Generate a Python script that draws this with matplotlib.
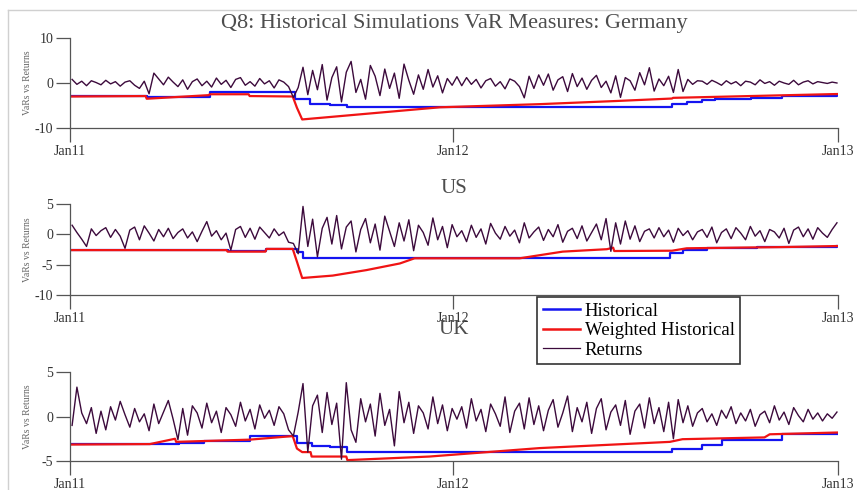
import numpy as np
import pandas as pd
import matplotlib
matplotlib.use("Agg")
import matplotlib.pyplot as plt
from matplotlib.lines import Line2D

plt.rcParams["font.family"] = ["Liberation Serif", "DejaVu Serif"]
plt.rcParams["axes.unicode_minus"] = False

# ---- data -------------------------------------------------------------
start_date = "2011-01-03"
end_date = "2012-12-31"
xtick_dates = ["2011-01-01", "2012-01-01", "2013-01-01"]
xtick_labels = ["Jan11", "Jan12", "Jan13"]

# daily returns, sampled roughly every 4-5 days
ret_germany = [
    0.8, -0.3, 0.4, -0.6, 0.5, 0.1, -0.4, 0.6, -0.2, 0.3, -0.7, 0.2, 0.5, -0.5, -1.2, 0.4,
    -2.4, 2.2,
    0.9, -0.4, 1.3, 0.2, -0.8, 0.7, -1.4, 0.3, 0.9, -0.6, 0.4, -0.9, 1.1, -0.3, 0.6, -1.0,
    0.8, 1.2, -0.5, 0.3, -0.7, 1.0, -0.2, 0.5, -1.1, 0.7, 0.2, -0.8,
    -3.2, -1.0, 3.5, -2.6, 2.8, -1.5, 4.1, -3.8, 1.2, 3.6, -4.2, 2.4, 4.8, -2.1, 0.8, -3.6,
    3.9, 1.5, -2.8, 3.1, -1.2, 2.2, -3.4, 4.2, 0.6, -2.5, 1.8, -1.4, 3.0, -0.9, 1.6, -2.2,
    1.0, -0.5, 1.4,
    -0.6, 1.2, -0.3, 0.8, -1.1, 0.5, 1.0, -0.7, 0.3, -1.3, 0.9, 0.4, -0.8, -3.3, 1.5, -1.2,
    1.8, -0.5, 2.0, -1.6, 0.7, 1.4, -1.9, 2.1, -0.8, 1.1, -1.4, 0.6, 1.7, -1.0, 0.4, -2.2,
    1.6, -3.2, 1.2, 0.5, -1.6, 2.3, -0.4, 3.4, -1.8, 0.9, -0.6, 1.5, -2.1, 3.0, -1.9, 0.8,
    -0.3, 0.5,
    0.4, -0.3, 0.6, 0.1, -0.5, 0.5, -0.2, 0.3, -0.6, 0.4, 0.2, -0.4, 0.7, -0.1, 0.3, -0.5,
    0.4, 0.0, -0.3, 0.6, -0.4, 0.2, 0.5, -0.2, 0.3, 0.1, -0.1, 0.2, 0.0,
]
ret_us = [
    1.5, 0.3, -0.8, -2.0, 0.9, -0.2, 0.6, 1.1, -0.5, 0.8, -0.3, -2.3, 0.7, 1.2, -0.9, 1.4,
    0.2, -1.1, 0.8, -0.4, 1.0, -0.7, 0.3, 0.9, -0.6, 0.4, -1.2, 0.5, 2.1, -0.3, 0.6, -0.9,
    0.2, -2.6, 0.8, 1.3, -0.5, 1.0, -0.8, 1.2, 0.3, -0.6, 0.9, -0.2, 0.4, -1.3,
    -1.5, -3.2, 4.6, -2.0, 2.5, -3.7, 1.0,
    2.8, -1.6, 3.1, -2.4, 1.2, 2.2, -2.9, 0.8, 2.6, -1.4, 1.7, -2.6, 3.0, 0.5, -2.0, 1.9,
    -1.1, 2.4, -2.7, 1.5, 0.3, -1.8, 2.7, -0.9, 1.3, -2.2, 1.6, -0.4,
    0.6, -1.2, 1.5, -0.5, 0.9, -1.6, 1.8, 0.2, -0.8, 1.3, -0.3, 0.7, -1.4, 1.9, -0.6, 0.4,
    1.2, -1.0, 0.8, -0.4, 1.6, -1.3, 0.5, 1.0, -0.7, 1.4, -1.1, 0.3, 1.7, -0.9, 2.6, -2.8,
    1.9, -1.6, 2.2, -0.8, 1.4, -1.2, 0.5, 0.9, -0.6, 1.1, -0.4, 0.7, -1.3, 1.0, -0.2, 0.6,
    -0.9, 0.4,
    0.8, -0.5, 1.2, -1.4, 0.3, 0.9, -0.7, 1.1, 0.2, -0.9, 1.3, -0.3, 0.6, -1.2, 0.8, 0.4,
    -0.6, 1.0, -1.5, 0.7, 1.2, -0.4, 0.9, -0.8, 1.1, 0.2, -0.5, 0.8, 1.9,
]
ret_uk = [
    -1.0, 3.3, 0.4, -0.8, 1.0, -1.9, 0.6, -1.5, 1.1, -0.4, 1.7, 0.2, -1.2, 0.9, -0.6, 0.3,
    -1.6, 1.4, -0.8, 0.5, 1.8, -0.3, -2.6, 0.9, -2.1, 1.2, 0.4, -1.3, 1.5, -0.7, 0.6, -1.8,
    1.0, 0.2, -1.1, 1.6, -0.5, 0.8, -1.4, 1.3, -0.2, 0.7, -1.0, 1.1, 0.3, -1.5,
    -2.2, 0.5, 3.7, -4.0, 1.2, 2.4, -1.8, 2.7, -0.9, 1.5, -4.8, 3.8, -1.5, -2.9, 2.0, -0.6,
    1.4, -2.2, 2.6, -1.0, 0.8, -3.3, 2.8, -0.7, 1.6, -1.9, 1.2, 0.4, -1.4, 2.2, -0.8, 1.3,
    -1.6, 0.9, -0.3,
    1.1, -1.3, 2.0, -0.5, 0.8, -1.7, 1.4, 0.3, -1.1, 2.2, -1.8, 0.6, 1.5, -1.4, 2.1, -0.9,
    1.2, -1.6, 0.7, 1.9, -1.2, 0.4, 2.3, -1.7, 1.0, -0.6, 1.6, -1.9, 0.9, 2.0, -1.5, 0.5,
    1.3, -1.0, 1.8, -2.0, 0.6, 1.4, -1.3, 2.1, -0.8, 1.0, -1.7, 1.6, -2.5, 1.9, -0.7, 1.2,
    -1.1, 0.4,
    0.9, -0.6, 0.3, -1.0, 0.7, -0.2, 1.1, -0.8, 0.4, -0.5, 0.8, -1.1, 0.2, 0.6, -0.7, 1.2,
    -0.4, 0.5, -0.9, 1.0, 0.1, -0.6, 0.8, -0.3, 0.4, -0.5, 0.3, -0.2, 0.5,
]

# Historical VaR: level changes (step function)
hist_de_dates = ["2011-01-03", "2011-03-15", "2011-05-14", "2011-06-21", "2011-08-03",
                 "2011-08-17", "2011-09-05", "2011-09-22", "2012-07-27", "2012-08-10",
                 "2012-08-25", "2012-09-06", "2012-10-10", "2012-11-09", "2012-12-31"]
hist_de_vals = [-2.9, -3.2, -2.1, -2.0, -3.5, -4.7, -5.0, -5.3, -4.7, -4.15,
                -3.8, -3.5, -3.3, -2.8, -2.75]
hist_us_dates = ["2011-01-03", "2011-05-31", "2011-07-07", "2011-08-05", "2011-08-11",
                 "2012-07-25", "2012-08-06", "2012-08-29", "2012-10-16", "2012-11-09",
                 "2012-12-31"]
hist_us_vals = [-2.6, -2.7, -2.4, -2.9, -3.95, -3.0, -2.6, -2.3, -2.15, -2.05, -1.95]
hist_uk_dates = ["2011-01-03", "2011-04-15", "2011-05-09", "2011-06-21", "2011-08-05",
                 "2011-08-19", "2011-09-05", "2011-09-22", "2012-07-27", "2012-08-25",
                 "2012-09-13", "2012-11-09", "2012-12-31"]
hist_uk_vals = [-3.1, -3.0, -2.8, -2.15, -3.0, -3.3, -3.45, -4.0, -3.6, -3.25,
                -2.6, -2.0, -1.95]

# Weighted historical VaR: piecewise path
wh_de_dates = ["2011-01-03", "2011-03-14", "2011-03-15", "2011-05-13", "2011-05-14",
               "2011-06-20", "2011-06-21", "2011-08-01", "2011-08-05", "2011-08-10",
               "2011-12-19", "2012-03-23", "2012-06-04", "2012-07-27", "2012-07-28",
               "2012-12-31"]
wh_de_vals = [-3.0, -2.9, -3.5, -2.7, -2.5, -2.5, -2.9, -3.0, -5.5, -8.1,
              -5.4, -4.7, -4.0, -3.45, -3.3, -2.45]
wh_us_dates = ["2011-01-03", "2011-05-30", "2011-05-31", "2011-07-06", "2011-07-07",
               "2011-08-01", "2011-08-05", "2011-08-10", "2011-09-08", "2011-10-10",
               "2011-11-11", "2011-11-25", "2012-03-04", "2012-04-14", "2012-05-26",
               "2012-06-01", "2012-06-02", "2012-07-27", "2012-08-10", "2012-11-09",
               "2012-12-31"]
wh_us_vals = [-2.6, -2.6, -2.85, -2.85, -2.4, -2.4, -4.5, -7.2, -6.8, -5.9,
              -4.8, -3.95, -3.95, -2.85, -2.45, -2.2, -2.75, -2.7, -2.3, -2.1, -1.93]
wh_uk_dates = ["2011-01-03", "2011-03-18", "2011-04-11", "2011-04-12", "2011-06-21",
               "2011-08-01", "2011-08-05", "2011-08-10", "2011-08-18", "2011-08-19",
               "2011-09-21", "2011-09-22", "2011-12-09", "2012-03-23", "2012-07-25",
               "2012-08-06", "2012-10-23", "2012-10-28", "2012-12-31"]
wh_uk_vals = [-3.15, -3.1, -2.5, -2.85, -2.6, -2.2, -3.6, -4.0, -4.0, -4.5,
              -4.5, -4.9, -4.5, -3.55, -2.85, -2.55, -2.35, -2.0, -1.8]

titles = ["Q8: Historical Simulations VaR Measures: Germany", "US", "UK"]
ylims = [(-10, 10), (-10, 5), (-5, 5)]
yticks = [[-10, 0, 10], [-10, -5, 0, 5], [-5, 0, 5]]

# ---- figure -----------------------------------------------------------
W, H = 857, 490
fig = plt.figure(figsize=(W / 100, H / 100), dpi=100)

# axes boxes in pixels: (top, bottom)
boxes = [(38, 128), (204, 295), (372, 461)]
title_pads = [7, 8, 27]
title_sizes = [16, 15, 15]
left_px, right_px = 70, 838

returns = [ret_germany, ret_us, ret_uk]
hist = [(hist_de_dates, hist_de_vals), (hist_us_dates, hist_us_vals), (hist_uk_dates, hist_uk_vals)]
whist = [(wh_de_dates, wh_de_vals), (wh_us_dates, wh_us_vals), (wh_uk_dates, wh_uk_vals)]

c_hist = "#1414f0"
c_wh = "#f01414"
c_ret = "#3c0a3c"
c_axis = "#555555"

for i in range(3):
    top, bot = boxes[i]
    ax = fig.add_axes([left_px / W, 1 - bot / H, (right_px - left_px) / W, (bot - top) / H])

    hd, hv = hist[i]
    ax.plot(pd.to_datetime(hd), hv, color=c_hist, lw=1.6, drawstyle="steps-post")
    wd, wv = whist[i]
    ax.plot(pd.to_datetime(wd), wv, color=c_wh, lw=1.6)
    r = returns[i]
    rd = pd.date_range(start_date, end_date, periods=len(r))
    ax.plot(rd, r, color=c_ret, lw=1.0)

    ax.set_xlim(pd.Timestamp("2011-01-01"), pd.Timestamp("2013-01-01"))
    ax.set_ylim(*ylims[i])
    ax.set_yticks(yticks[i])
    ax.set_xticks(pd.to_datetime(xtick_dates))
    ax.set_xticklabels(xtick_labels)

    for s in ["top", "right"]:
        ax.spines[s].set_visible(False)
    for s in ["left", "bottom"]:
        ax.spines[s].set_color(c_axis)
        ax.spines[s].set_linewidth(0.9)
    ax.tick_params(direction="out", length=10, width=0.9, color=c_axis,
                   labelcolor="#333333", labelsize=10, pad=2)

    ax.set_ylabel("VaRs vs Returns", fontsize=7, color="#666666")
    ax.yaxis.set_label_coords(-0.05, 0.5)
    ax.set_title(titles[i], fontsize=title_sizes[i], color="#4d4d4d", pad=title_pads[i])

# legend
handles = [Line2D([], [], color=c_hist, lw=1.8),
           Line2D([], [], color=c_wh, lw=1.8),
           Line2D([], [], color=c_ret, lw=0.9)]
leg = fig.legend(handles, ["Historical", "Weighted Historical", "Returns"],
                 loc="upper left", bbox_to_anchor=(537 / W, 1 - 297 / H),
                 fontsize=13.5, frameon=True, fancybox=False, framealpha=1,
                 edgecolor="#333333", handlelength=2.0, handletextpad=0.25,
                 borderpad=0.3, labelspacing=0.12, borderaxespad=0)
leg.get_frame().set_linewidth(1.2)

# light screenshot border on the left and top
fig.add_artist(Line2D([8 / W, 8 / W], [0, 1 - 10 / H], transform=fig.transFigure,
                      color="#d0d0d0", lw=1))
fig.add_artist(Line2D([8 / W, 1], [1 - 10 / H, 1 - 10 / H], transform=fig.transFigure,
                      color="#d0d0d0", lw=1))

fig.savefig("out.png", dpi=100)
